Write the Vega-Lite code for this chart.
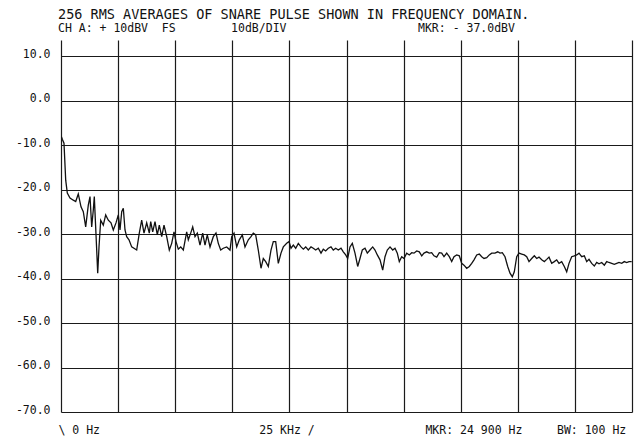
{
  "$schema": "https://vega.github.io/schema/vega-lite/v6.json",
  "width": 571,
  "height": 372,
  "autosize": {"type": "none"},
  "padding": {"left": 61, "top": 40, "right": 6, "bottom": 27},
  "background": "white",
  "config": {
    "view": {"stroke": null},
    "font": "DejaVu Sans Mono"
  },
  "title": {
    "text": "256 RMS AVERAGES OF SNARE PULSE SHOWN IN FREQUENCY DOMAIN.",
    "subtitle": "CH A: + 10dBV\u00a0\u00a0FS\u00a0\u00a0\u00a0\u00a0\u00a0\u00a0\u00a0\u00a010dB/DIV\u00a0\u00a0\u00a0\u00a0\u00a0\u00a0\u00a0\u00a0\u00a0\u00a0\u00a0\u00a0\u00a0\u00a0\u00a0\u00a0\u00a0\u00a0\u00a0MKR: - 37.0dBV",
    "anchor": "start",
    "frame": "group",
    "dx": -3,
    "font": "DejaVu Sans Mono",
    "fontSize": 13.5,
    "fontWeight": "normal",
    "color": "#111",
    "subtitleFont": "DejaVu Sans Mono",
    "subtitleFontSize": 11.5,
    "subtitleColor": "#111",
    "subtitlePadding": 1,
    "offset": 6
  },
  "data": {
    "values": [
      {"f": 22, "db": -8.2}, {"f": 57, "db": -8.7}, {"f": 131, "db": -9.6}, {"f": 206, "db": -17.9},
      {"f": 276, "db": -20.8}, {"f": 394, "db": -21.9}, {"f": 539, "db": -22.4}, {"f": 644, "db": -22.7},
      {"f": 757, "db": -21.0}, {"f": 876, "db": -23.9}, {"f": 976, "db": -25.0}, {"f": 1081, "db": -28.4},
      {"f": 1195, "db": -23.5}, {"f": 1270, "db": -21.6}, {"f": 1344, "db": -28.4}, {"f": 1414, "db": -24.6},
      {"f": 1458, "db": -21.6}, {"f": 1563, "db": -33.6}, {"f": 1607, "db": -38.8}, {"f": 1664, "db": -32.9},
      {"f": 1738, "db": -26.9}, {"f": 1852, "db": -28.0}, {"f": 1957, "db": -25.7}, {"f": 2071, "db": -26.9},
      {"f": 2189, "db": -27.5}, {"f": 2290, "db": -29.1}, {"f": 2408, "db": -27.5}, {"f": 2509, "db": -25.7},
      {"f": 2583, "db": -29.1}, {"f": 2658, "db": -25.0}, {"f": 2728, "db": -24.2}, {"f": 2802, "db": -29.1},
      {"f": 2876, "db": -30.6}, {"f": 2977, "db": -31.3}, {"f": 3095, "db": -32.9}, {"f": 3314, "db": -33.6},
      {"f": 3428, "db": -29.8}, {"f": 3533, "db": -26.9}, {"f": 3634, "db": -29.8}, {"f": 3752, "db": -27.5},
      {"f": 3866, "db": -29.8}, {"f": 3927, "db": -27.2}, {"f": 4015, "db": -29.5}, {"f": 4116, "db": -27.2},
      {"f": 4216, "db": -30.2}, {"f": 4304, "db": -28.0}, {"f": 4409, "db": -30.6}, {"f": 4510, "db": -28.0},
      {"f": 4628, "db": -30.6}, {"f": 4742, "db": -33.6}, {"f": 4847, "db": -32.1}, {"f": 4948, "db": -29.5},
      {"f": 5035, "db": -31.7}, {"f": 5136, "db": -33.4}, {"f": 5241, "db": -32.9}, {"f": 5355, "db": -33.6},
      {"f": 5503, "db": -29.5}, {"f": 5574, "db": -31.3}, {"f": 5679, "db": -29.8}, {"f": 5766, "db": -28.4},
      {"f": 5867, "db": -30.6}, {"f": 5968, "db": -29.8}, {"f": 6086, "db": -32.5}, {"f": 6204, "db": -29.8},
      {"f": 6305, "db": -32.5}, {"f": 6405, "db": -30.2}, {"f": 6524, "db": -32.9}, {"f": 6668, "db": -30.6},
      {"f": 6786, "db": -29.8}, {"f": 6887, "db": -32.1}, {"f": 6992, "db": -33.6}, {"f": 7106, "db": -33.2},
      {"f": 7255, "db": -32.9}, {"f": 7399, "db": -33.6}, {"f": 7474, "db": -30.6}, {"f": 7575, "db": -29.8},
      {"f": 7693, "db": -32.9}, {"f": 7807, "db": -31.3}, {"f": 7938, "db": -30.2}, {"f": 8056, "db": -32.9},
      {"f": 8201, "db": -31.3}, {"f": 8319, "db": -30.6}, {"f": 8419, "db": -29.8}, {"f": 8524, "db": -30.2},
      {"f": 8638, "db": -33.6}, {"f": 8757, "db": -37.7}, {"f": 8857, "db": -35.5}, {"f": 8962, "db": -36.2},
      {"f": 9076, "db": -37.3}, {"f": 9194, "db": -33.6}, {"f": 9295, "db": -31.7}, {"f": 9400, "db": -31.7},
      {"f": 9514, "db": -36.6}, {"f": 9632, "db": -34.3}, {"f": 9733, "db": -32.9}, {"f": 9882, "db": -32.1},
      {"f": 9983, "db": -31.7}, {"f": 10070, "db": -33.2}, {"f": 10171, "db": -32.5}, {"f": 10276, "db": -33.2},
      {"f": 10390, "db": -32.1}, {"f": 10508, "db": -32.9}, {"f": 10609, "db": -33.4}, {"f": 10714, "db": -32.9},
      {"f": 10828, "db": -33.6}, {"f": 10946, "db": -32.9}, {"f": 11046, "db": -33.2}, {"f": 11151, "db": -33.6},
      {"f": 11265, "db": -33.2}, {"f": 11384, "db": -34.3}, {"f": 11484, "db": -33.4}, {"f": 11589, "db": -33.8},
      {"f": 11703, "db": -33.2}, {"f": 11821, "db": -32.9}, {"f": 11922, "db": -33.6}, {"f": 12027, "db": -33.2},
      {"f": 12141, "db": -33.6}, {"f": 12259, "db": -33.2}, {"f": 12360, "db": -34.0}, {"f": 12465, "db": -34.7},
      {"f": 12552, "db": -35.5}, {"f": 12653, "db": -32.9}, {"f": 12754, "db": -32.1}, {"f": 12872, "db": -34.3},
      {"f": 12990, "db": -37.3}, {"f": 13091, "db": -35.5}, {"f": 13192, "db": -33.6}, {"f": 13310, "db": -33.2},
      {"f": 13411, "db": -34.3}, {"f": 13529, "db": -33.6}, {"f": 13647, "db": -32.9}, {"f": 13748, "db": -33.6},
      {"f": 13849, "db": -34.7}, {"f": 13967, "db": -35.8}, {"f": 14085, "db": -38.1}, {"f": 14186, "db": -35.1},
      {"f": 14286, "db": -33.6}, {"f": 14405, "db": -32.9}, {"f": 14523, "db": -33.6}, {"f": 14624, "db": -33.2},
      {"f": 14724, "db": -34.3}, {"f": 14812, "db": -36.2}, {"f": 14917, "db": -35.1}, {"f": 15018, "db": -35.5},
      {"f": 15136, "db": -34.3}, {"f": 15250, "db": -34.7}, {"f": 15355, "db": -34.2}, {"f": 15455, "db": -34.3},
      {"f": 15574, "db": -33.8}, {"f": 15687, "db": -34.0}, {"f": 15793, "db": -34.9}, {"f": 15893, "db": -34.3},
      {"f": 16011, "db": -34.0}, {"f": 16125, "db": -34.3}, {"f": 16230, "db": -34.2}, {"f": 16331, "db": -34.9},
      {"f": 16449, "db": -35.2}, {"f": 16563, "db": -34.2}, {"f": 16668, "db": -34.3}, {"f": 16769, "db": -35.1},
      {"f": 16887, "db": -34.3}, {"f": 17001, "db": -35.1}, {"f": 17106, "db": -36.2}, {"f": 17207, "db": -35.1},
      {"f": 17325, "db": -34.7}, {"f": 17439, "db": -34.9}, {"f": 17544, "db": -36.6}, {"f": 17644, "db": -37.0},
      {"f": 17763, "db": -37.7}, {"f": 17877, "db": -37.3}, {"f": 17982, "db": -36.6}, {"f": 18083, "db": -35.8},
      {"f": 18201, "db": -34.7}, {"f": 18315, "db": -34.5}, {"f": 18420, "db": -35.1}, {"f": 18520, "db": -35.5},
      {"f": 18639, "db": -35.3}, {"f": 18752, "db": -34.7}, {"f": 18857, "db": -34.3}, {"f": 19002, "db": -34.3},
      {"f": 19120, "db": -34.0}, {"f": 19221, "db": -34.3}, {"f": 19321, "db": -34.2}, {"f": 19440, "db": -35.1},
      {"f": 19558, "db": -37.3}, {"f": 19659, "db": -38.8}, {"f": 19760, "db": -39.6}, {"f": 19847, "db": -38.5},
      {"f": 19952, "db": -35.1}, {"f": 20053, "db": -34.3}, {"f": 20171, "db": -34.5}, {"f": 20285, "db": -34.7},
      {"f": 20390, "db": -35.1}, {"f": 20491, "db": -36.2}, {"f": 20609, "db": -35.5}, {"f": 20723, "db": -34.9},
      {"f": 20828, "db": -35.5}, {"f": 20928, "db": -35.2}, {"f": 21047, "db": -35.8}, {"f": 21161, "db": -36.2},
      {"f": 21266, "db": -35.7}, {"f": 21366, "db": -35.2}, {"f": 21484, "db": -36.6}, {"f": 21598, "db": -36.2},
      {"f": 21703, "db": -35.8}, {"f": 21804, "db": -36.6}, {"f": 21922, "db": -36.2}, {"f": 22036, "db": -37.3},
      {"f": 22141, "db": -38.5}, {"f": 22242, "db": -36.6}, {"f": 22360, "db": -35.1}, {"f": 22474, "db": -34.9},
      {"f": 22579, "db": -34.7}, {"f": 22680, "db": -34.3}, {"f": 22798, "db": -35.1}, {"f": 22912, "db": -34.9},
      {"f": 23017, "db": -36.2}, {"f": 23117, "db": -35.7}, {"f": 23236, "db": -36.6}, {"f": 23350, "db": -37.2},
      {"f": 23455, "db": -36.4}, {"f": 23555, "db": -36.7}, {"f": 23674, "db": -36.4}, {"f": 23788, "db": -37.0},
      {"f": 23893, "db": -36.2}, {"f": 23993, "db": -36.4}, {"f": 24111, "db": -36.6}, {"f": 24225, "db": -36.8},
      {"f": 24330, "db": -36.6}, {"f": 24431, "db": -36.4}, {"f": 24549, "db": -36.6}, {"f": 24663, "db": -36.2},
      {"f": 24768, "db": -36.4}, {"f": 24869, "db": -36.2}, {"f": 24987, "db": -36.2}
    ]
  },
  "mark": {"type": "line", "color": "#111", "strokeWidth": 1.3, "interpolate": "linear"},
  "encoding": {
    "x": {
      "field": "f",
      "type": "quantitative",
      "scale": {"domain": [0, 25000], "nice": false, "zero": false},
      "axis": {
        "values": [0, 2500, 5000, 7500, 10000, 12500, 15000, 17500, 20000, 22500, 25000],
        "labels": false,
        "ticks": false,
        "domain": false,
        "grid": true,
        "gridColor": "#1a1a1a",
        "gridWidth": 1.2,
        "gridOpacity": 1,
        "title": "\\ 0 Hz\u00a0\u00a0\u00a0\u00a0\u00a0\u00a0\u00a0\u00a0\u00a0\u00a0\u00a0\u00a0\u00a0\u00a0\u00a0\u00a0\u00a0\u00a0\u00a0\u00a0\u00a0\u00a0\u00a025 KHz /\u00a0\u00a0\u00a0\u00a0\u00a0\u00a0\u00a0\u00a0\u00a0\u00a0\u00a0\u00a0\u00a0\u00a0\u00a0\u00a0MKR: 24 900 Hz\u00a0\u00a0\u00a0\u00a0\u00a0BW: 100 Hz",
        "titleFont": "DejaVu Sans Mono",
        "titleFontSize": 11.5,
        "titleFontWeight": "normal",
        "titleColor": "#111",
        "titleAnchor": "start",
        "titleAlign": "left",
        "titleBaseline": "middle",
        "titleX": -3,
        "titleY": 18
      }
    },
    "y": {
      "field": "db",
      "type": "quantitative",
      "scale": {"domain": [-70, 13.6], "nice": false, "zero": false},
      "axis": {
        "values": [10, 0, -10, -20, -30, -40, -50, -60, -70],
        "labelExpr": "replace(format(datum.value, '.1f'), '\u2212', '-')",
        "labelFont": "DejaVu Sans Mono",
        "labelFontSize": 11.5,
        "labelColor": "#111",
        "labelPadding": 11,
        "labelBaseline": "middle",
        "labelOffset": -2,
        "ticks": false,
        "domain": false,
        "grid": true,
        "gridColor": "#1a1a1a",
        "gridWidth": 1.2,
        "gridOpacity": 1,
        "title": null
      }
    }
  }
}
